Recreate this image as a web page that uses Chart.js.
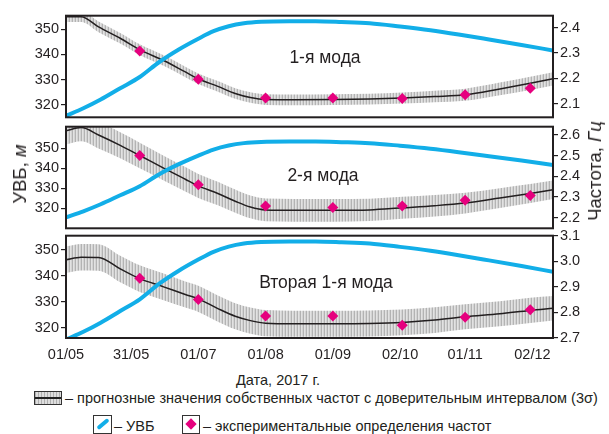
<!DOCTYPE html>
<html lang="ru">
<head>
<meta charset="UTF-8" />
<title>УВБ и собственные частоты</title>
<script src="https://cdn.jsdelivr.net/npm/chart.js@4.4.0/dist/chart.umd.min.js"></script>
<style>
  body { margin: 0; width: 609px; height: 434px; background: #fff; position: relative; overflow: hidden;
         font-family: "Liberation Sans", Arial, sans-serif; color: #231f20; }
  canvas { position: absolute; left: 0; }
  .txt { position: absolute; white-space: nowrap; }
  .mode { font-size: 17.5px; line-height: 20px; transform: translateX(-50%); }
  .ytitle { font-size: 18.5px; line-height: 20px; transform: translate(-50%, -50%) rotate(-90deg); }
  .leg { font-size: 14.5px; line-height: 17px; }
  .box { position: absolute; border: 1px solid #333; box-sizing: border-box; background: #fff; }
</style>
</head>
<body>
  <canvas id="c1" width="609" height="123" style="top:5px"></canvas>
  <canvas id="c2" width="609" height="123" style="top:116px"></canvas>
  <canvas id="c3" width="609" height="143" style="top:225px"></canvas>

  <div class="txt mode" style="left:325px; top:47px">1-я мода</div>
  <div class="txt mode" style="left:323px; top:165px">2-я мода</div>
  <div class="txt mode" style="left:326px; top:272px">Вторая 1-я мода</div>

  <div class="txt ytitle" style="left:20px; top:174px">УВБ, <i>м</i></div>
  <div class="txt ytitle" style="left:595px; top:171px">Частота, <i>Гц</i></div>

  <div class="txt leg" style="left:236px; top:372px">Дата, 2017 г.</div>

  <div class="box" style="left:34px; top:391px; width:28px; height:14px;
       background: repeating-linear-gradient(90deg, #b0b0b0 0 1px, #dedede 1px 3px);">
    <div style="position:absolute; left:0; right:0; top:5px; height:1.5px; background:#222"></div>
  </div>
  <div class="txt leg" style="left:65px; top:390px">– прогнозные значения собственных частот с доверительным интервалом (3σ)</div>

  <div class="box" style="left:93px; top:415px; width:19px; height:19px;">
    <div style="position:absolute; left:2px; top:6px; width:14px; height:4px; border-radius:2px; background:#12aee8; transform:rotate(-40deg)"></div>
  </div>
  <div class="txt leg" style="left:114px; top:418px">– УВБ</div>
  <div class="box" style="left:182px; top:415px; width:18px; height:19px;">
    <div style="position:absolute; left:4px; top:4px; width:8px; height:8px; background:#e6007e; transform:rotate(45deg)"></div>
  </div>
  <div class="txt leg" style="left:203px; top:418px">– экспериментальные определения частот</div>

<script>
// days since 01/05/2017
const tickDays = [0, 30, 61, 92, 123, 154, 184, 215];
const tickLabels = ['01/05', '31/05', '01/07', '01/08', '01/09', '02/10', '01/11', '02/12'];

// water level (УВБ), m
const uvbDays = [0, 8, 16, 25, 34, 43, 52, 61, 68, 75, 82, 90, 103, 115, 127, 140, 154, 168, 181, 195, 210, 224.5];
const uvb = [315.5, 318.5, 322, 326.5, 331, 337, 342, 346.3, 349.3, 351.3, 352.5, 353.1, 353.3, 353.3, 353, 352.5, 351.2, 349.7, 348, 346, 343.8, 341.6];

// forecast frequencies with 3σ band, Hz
const fcDays = [0, 7, 15, 25, 34, 45, 55, 61, 70, 78, 85, 92, 105, 123, 140, 155, 170, 184, 200, 214, 224.5];
const mode1 = [2.443, 2.443, 2.403, 2.358, 2.313, 2.27, 2.225, 2.198, 2.168, 2.14, 2.124, 2.116, 2.115, 2.116, 2.118, 2.122, 2.128, 2.135, 2.158, 2.18, 2.198];
const mode1Hi = [2.464, 2.464, 2.424, 2.379, 2.334, 2.291, 2.246, 2.219, 2.189, 2.161, 2.145, 2.137, 2.136, 2.137, 2.139, 2.144, 2.151, 2.159, 2.183, 2.206, 2.224];
const mode1Lo = [2.422, 2.422, 2.382, 2.337, 2.292, 2.249, 2.204, 2.177, 2.147, 2.119, 2.103, 2.095, 2.094, 2.095, 2.097, 2.1, 2.105, 2.111, 2.133, 2.154, 2.172];
const mode2 = [2.62, 2.636, 2.6, 2.55, 2.501, 2.44, 2.386, 2.354, 2.317, 2.28, 2.252, 2.238, 2.236, 2.236, 2.238, 2.248, 2.258, 2.271, 2.295, 2.317, 2.335];
const mode2Hi = [2.686, 2.702, 2.665, 2.613, 2.563, 2.5, 2.445, 2.412, 2.374, 2.336, 2.307, 2.293, 2.291, 2.291, 2.292, 2.301, 2.31, 2.321, 2.343, 2.363, 2.38];
const mode2Lo = [2.554, 2.57, 2.535, 2.487, 2.439, 2.38, 2.327, 2.296, 2.26, 2.224, 2.197, 2.183, 2.181, 2.181, 2.184, 2.195, 2.206, 2.221, 2.247, 2.271, 2.29];
const mode3 = [3.006, 3.016, 3.015, 2.97, 2.932, 2.9, 2.87, 2.853, 2.815, 2.785, 2.768, 2.758, 2.756, 2.756, 2.757, 2.761, 2.77, 2.783, 2.795, 2.808, 2.816];
const mode3Hi = [3.058, 3.068, 3.067, 3.022, 2.984, 2.952, 2.921, 2.904, 2.866, 2.836, 2.819, 2.809, 2.807, 2.807, 2.808, 2.811, 2.82, 2.832, 2.844, 2.857, 2.864];
const mode3Lo = [2.954, 2.964, 2.963, 2.918, 2.88, 2.848, 2.819, 2.802, 2.764, 2.734, 2.717, 2.707, 2.705, 2.705, 2.706, 2.711, 2.72, 2.734, 2.746, 2.759, 2.768];

// experimental frequencies
const expDays = [34, 61, 92, 123, 155, 184, 214];
const exp1 = [2.308, 2.196, 2.122, 2.122, 2.12, 2.135, 2.161];
const exp2 = [2.501, 2.359, 2.257, 2.249, 2.257, 2.284, 2.308];
const exp3 = [2.934, 2.851, 2.786, 2.786, 2.75, 2.781, 2.81];

const pts = (xs, ys) => xs.map((x, i) => ({ x: x, y: ys[i] }));

// grey hatch for the confidence band
const pc = document.createElement('canvas');
pc.width = 3; pc.height = 4;
const pctx = pc.getContext('2d');
pctx.fillStyle = '#e2e2e2'; pctx.fillRect(0, 0, 3, 4);
pctx.fillStyle = '#b3b3b3'; pctx.fillRect(0, 0, 1, 4);
pctx.fillStyle = '#d3d3d3'; pctx.fillRect(2, 0, 1, 4);
const hatch = pctx.createPattern(pc, 'repeat');

const frame = {
  id: 'frame',
  afterDraw(chart) {
    const a = chart.chartArea, ctx = chart.ctx;
    ctx.save();
    ctx.strokeStyle = '#231f20';
    ctx.lineWidth = 2;
    ctx.strokeRect(a.left, a.top, a.right - a.left, a.bottom - a.top);
    ctx.restore();
  }
};

const tickFont = { family: '"Liberation Sans", Arial, sans-serif', size: 14.5 };

function makePanel(id, mode, hi, lo, exp, left, right, fTicks, showX) {
  new Chart(document.getElementById(id), {
    type: 'line',
    data: {
      datasets: [
        { data: pts(expDays, exp), yAxisID: 'yR', showLine: false, order: 0,
          pointStyle: 'rectRot', pointRadius: 5.5, backgroundColor: '#e6007e', borderWidth: 0 },
        { data: pts(uvbDays, uvb), yAxisID: 'yL', order: 1, borderColor: '#12aee8', borderWidth: 4,
          pointRadius: 0, cubicInterpolationMode: 'monotone', borderCapStyle: 'round' },
        { data: pts(fcDays, mode), yAxisID: 'yR', order: 2, borderColor: '#231f20', borderWidth: 1.5,
          pointRadius: 0, cubicInterpolationMode: 'monotone' },
        { data: pts(fcDays, hi), yAxisID: 'yR', order: 3, borderWidth: 0, pointRadius: 0,
          fill: '+1', backgroundColor: hatch, cubicInterpolationMode: 'monotone' },
        { data: pts(fcDays, lo), yAxisID: 'yR', order: 4, borderWidth: 0, pointRadius: 0,
          fill: false, cubicInterpolationMode: 'monotone' }
      ]
    },
    options: {
      responsive: false,
      animation: false,
      layout: { padding: { top: 10, bottom: showX ? 0 : 10, left: 0, right: 0 } },
      plugins: { legend: { display: false }, tooltip: { enabled: false } },
      scales: {
        x: {
          type: 'linear', min: 0, max: 224.5, display: showX,
          afterBuildTicks: s => { s.ticks = tickDays.map(v => ({ value: v })); },
          afterFit: s => { s.height = showX ? 30 : 0; },
          grid: { display: false, drawTicks: false },
          border: { display: false },
          ticks: { padding: 8, color: '#231f20', font: tickFont, maxRotation: 0, autoSkip: false,
                   callback: (v, i) => tickLabels[i] }
        },
        yL: {
          position: 'left', min: left[0], max: left[1],
          afterBuildTicks: s => { s.ticks = [320, 330, 340, 350].map(v => ({ value: v })); },
          afterFit: s => { s.width = 66; },
          grid: { drawOnChartArea: false, tickLength: 5, color: '#231f20', lineWidth: 1.2 },
          border: { display: false },
          ticks: { padding: 2, color: '#231f20', font: tickFont }
        },
        yR: {
          position: 'right', min: right[0], max: right[1],
          afterBuildTicks: s => { s.ticks = fTicks.map(v => ({ value: v })); },
          afterFit: s => { s.width = 56; },
          grid: { drawOnChartArea: false, tickLength: 5, color: '#231f20', lineWidth: 1.2 },
          border: { display: false },
          ticks: { padding: 2, color: '#231f20', font: tickFont, callback: v => v.toFixed(1) }
        }
      }
    },
    plugins: [frame]
  });
}

makePanel('c1', mode1, mode1Hi, mode1Lo, exp1, [314.9, 355.5], [2.046, 2.447], [2.1, 2.2, 2.3, 2.4], false);
makePanel('c2', mode2, mode2Hi, mode2Lo, exp2, [310.0, 360.7], [2.149, 2.64], [2.2, 2.3, 2.4, 2.5, 2.6], false);
makePanel('c3', mode3, mode3Hi, mode3Lo, exp3, [316.1, 355.5], [2.7, 3.1], [2.7, 2.8, 2.9, 3.0, 3.1], true);
</script>
</body>
</html>
